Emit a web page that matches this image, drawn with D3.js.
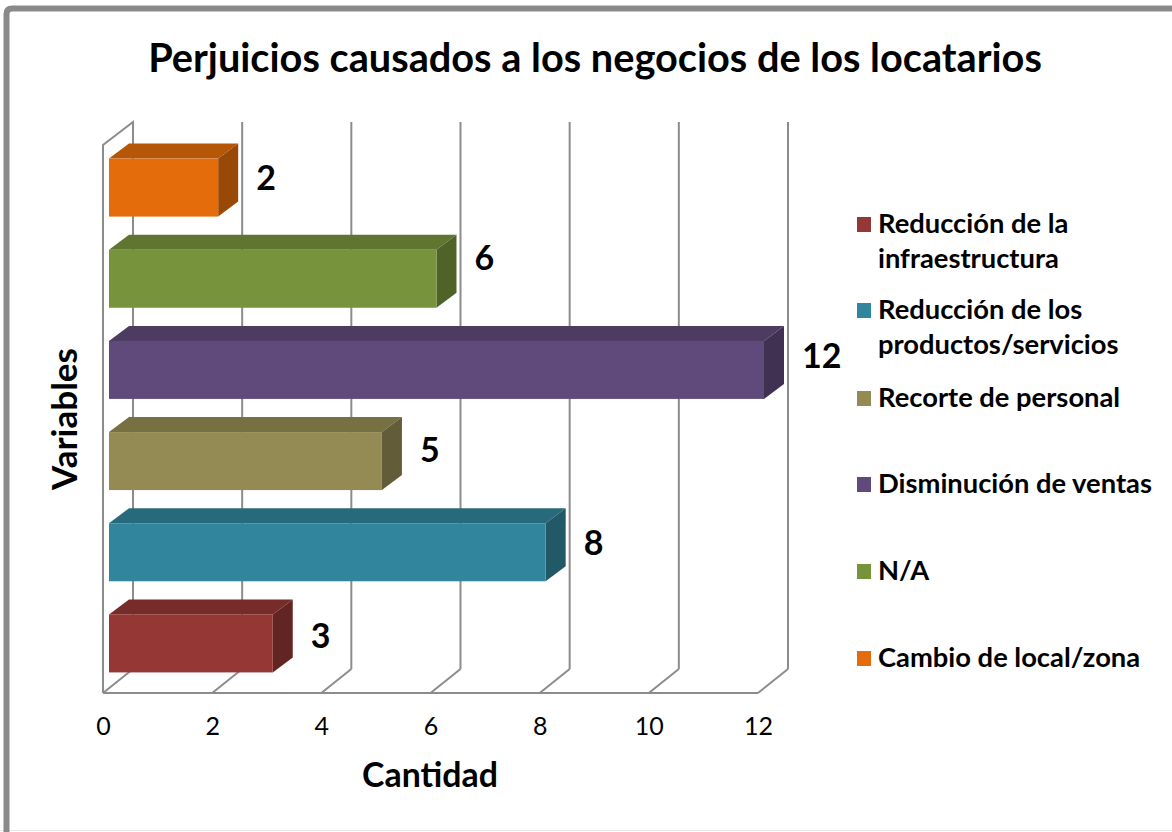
<!DOCTYPE html>
<html><head><meta charset="utf-8">
<script src="https://cdn.jsdelivr.net/npm/d3@7"></script>
<style>body{margin:0;background:#fff}svg{display:block}</style>
</head><body>
<script>
const categories = ["Reducción de la infraestructura","Reducción de los productos/servicios","Recorte de personal","Disminución de ventas","N/A","Cambio de local/zona"];
const values = [3, 8, 5, 12, 6, 2];
const frontColors = ["#953735","#31859C","#948A54","#604A7B","#77933C","#E46C0A"];
const topColors   = ["#772C2A","#276A7C","#767043","#4D3B62","#5F7530","#B65708"];
const sideColors  = ["#632523","#215967","#625D38","#403152","#4F6228","#984807"];
const tickValues = [0,2,4,6,8,10,12];
const legendLines = [["Reducción de la","infraestructura"],["Reducción de los","productos/servicios"],["Recorte de personal"],["Disminución de ventas"],["N/A"],["Cambio de local/zona"]];
const title = "Perjuicios causados a los negocios de los locatarios";
const xTitle = "Cantidad", yTitle = "Variables";

// layout-only nudges of the value labels (vertical, px)
const labelNudge = [-7,-9,-11,-13,-20,-9];

const W=1172,H=832, FONT="Lato, 'Open Sans', sans-serif";
const svg=d3.select("body").append("svg").attr("width",W).attr("height",H);

function fit(sel,w){const n=sel.node();let fs=parseFloat(sel.attr("font-size"));const l=n.getComputedTextLength();const nf=fs*w/l;sel.attr("font-size",nf);return nf;}

// border
svg.append("line").attr("x1",0).attr("x2",W).attr("y1",830.5).attr("y2",830.5).attr("stroke","#e8e8e8").attr("stroke-width",1);
svg.append("path").attr("d",`M6.5,${H} L6.5,14 Q6.5,8.5 12,8.5 L${W},8.5`).attr("fill","none").attr("stroke","#8a8a8a").attr("stroke-width",6);

const x=d3.scaleLinear().domain([0,12]).range([103,758]);
const floorY=693, DX=30, DY=-24, wallTop=122;
const y=d3.scaleBand().domain(categories).range([689,142]);
const barH=58, bdx=20, bdy=-15, barShift=6;
const gc="#8c8c8c";
const g=svg.append("g");
// left wall
g.append("path").attr("d",`M${x(0)},${floorY} L${x(0)},${wallTop+23} L${x(0)+DX},${wallTop} L${x(0)+DX},${floorY+DY}`).attr("fill","none").attr("stroke",gc).attr("stroke-width",2);
// floor front
g.append("line").attr("x1",x(0)).attr("x2",x(12)).attr("y1",floorY).attr("y2",floorY).attr("stroke",gc).attr("stroke-width",2);
tickValues.forEach(v=>{
  g.append("line").attr("x1",x(v)).attr("y1",floorY).attr("x2",x(v)+DX).attr("y2",floorY+DY).attr("stroke",gc).attr("stroke-width",2);
  if(v>0) g.append("line").attr("x1",x(v)+DX).attr("x2",x(v)+DX).attr("y1",wallTop).attr("y2",floorY+DY).attr("stroke",gc).attr("stroke-width",2);
});

// bars
const valFS=34;
categories.forEach((c,i)=>{
  const x0=x(0)+barShift, x1=x(values[i])+barShift;
  const yc=y(c)+y.bandwidth()/2, y0=yc-barH/2, y1=yc+barH/2;
  g.append("path").attr("d",`M${x0},${y0} L${x0+bdx},${y0+bdy} L${x1+bdx},${y0+bdy} L${x1},${y0}Z`).attr("fill",topColors[i]);
  g.append("path").attr("d",`M${x1},${y0} L${x1+bdx},${y0+bdy} L${x1+bdx},${y1+bdy} L${x1},${y1}Z`).attr("fill",sideColors[i]);
  g.append("rect").attr("x",x0).attr("y",y0).attr("width",x1-x0).attr("height",barH).attr("fill",frontColors[i]);
  g.append("text").attr("x",x1+bdx+18).attr("y",yc+labelNudge[i]+valFS*0.34).attr("font-family",FONT).attr("font-weight","bold").attr("font-size",valFS).attr("fill","#000").text(values[i]);
});

// axis
const ax=svg.append("g").attr("transform",`translate(0,${floorY})`).call(d3.axisBottom(x).tickValues(tickValues).tickSize(0).tickPadding(24));
ax.select(".domain").remove();
ax.selectAll("text").attr("font-family",FONT).attr("font-size",25).attr("fill","#000");

// titles
fit(svg.append("text").attr("x",595).attr("y",72).attr("text-anchor","middle").attr("font-family",FONT).attr("font-weight","bold").attr("font-size",38).text(title),894);
fit(svg.append("text").attr("x",430).attr("y",787).attr("text-anchor","middle").attr("font-family",FONT).attr("font-weight","bold").attr("font-size",30).text(xTitle),136);
fit(svg.append("text").attr("transform","translate(77,419) rotate(-90)").attr("text-anchor","middle").attr("font-family",FONT).attr("font-weight","bold").attr("font-size",30).text(yTitle),142);

// legend
const legBase=[233,319,407,493,580,667];
const probe=svg.append("text").attr("font-family",FONT).attr("font-weight","bold").attr("font-size",22).text(legendLines[3][0]);
const legFS=fit(probe,274); probe.remove();
legendLines.forEach((lines,i)=>{
  svg.append("rect").attr("x",857).attr("y",legBase[i]-16).attr("width",14).attr("height",15).attr("fill",frontColors[i]);
  lines.forEach((t,j)=>{
    svg.append("text").attr("x",878).attr("y",legBase[i]+j*35).attr("font-family",FONT).attr("font-weight","bold").attr("font-size",legFS).attr("fill","#000").text(t);
  });
});
</script>
</body></html>
